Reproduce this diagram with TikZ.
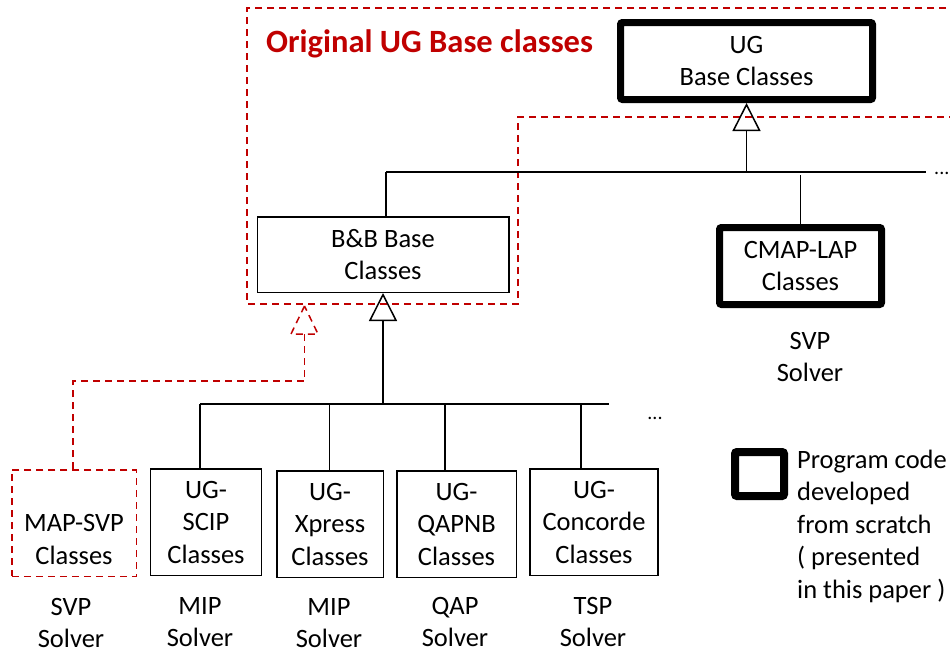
\documentclass[tikz,border=0pt]{standalone}
\usepackage{fontspec}
\setmainfont{Carlito}
\usetikzlibrary{arrows.meta}
\definecolor{ugred}{HTML}{C00000}
\tikzset{
  every node/.style={font=\fontsize{26.5}{32.5}\selectfont, align=center},
  thinbox/.style={draw=black, line width=1.5pt, inner sep=0pt},
  thickbox/.style={draw=black, line width=7pt, rounded corners=2pt, inner sep=0pt},
  redbox/.style={draw=ugred, line width=1.5pt, dash pattern=on 7pt off 5pt, inner sep=0pt},
  conn/.style={draw=black, line width=1.5pt},
  redconn/.style={draw=ugred, line width=1.5pt, dash pattern=on 7pt off 5pt},
  inherit/.style={conn, -{Triangle[open, length=28pt, width=28pt, line width=1.5pt]}},
  plain/.style={inner sep=0pt},
}
\begin{document}
\begin{tikzpicture}[x=1pt, y=-1pt]
\useasboundingbox (0,0) rectangle (950,654);

% red dashed region of the original UG base classes
\draw[redconn] (970,8) -- (247,8) -- (247,304) -- (518,304) -- (518,117) -- (970,117);
\node[plain, font=\bfseries\fontsize{32.5}{36}\selectfont, text=ugred, anchor=west] (title) at (266,44) {Original UG Base classes};

% boxes
\node[thickbox, minimum width=252pt, minimum height=77pt] (ug) at (746.5,61) {UG\\Base Classes};
\node[thinbox, minimum width=251.5pt, minimum height=75.5pt] (bb) at (383,254.5) {B\&B Base\\Classes};
\node[thickbox, minimum width=162pt, minimum height=77pt] (cmap) at (800.5,266) {CMAP-LAP\\Classes};
\node[plain] (cmapsol) at (810,357) {SVP\\Solver};

\node[redbox, minimum width=124.5pt, minimum height=106.5pt] (msvp) at (74,523) {\phantom{UG-}\\MAP-SVP\\Classes};
\node[thinbox, minimum width=111pt, minimum height=106.5pt] (scip) at (206,522) {UG-\\SCIP\\Classes};
\node[thinbox, minimum width=106.5pt, minimum height=106.5pt] (xpress) at (330,524) {UG-\\Xpress\\Classes};
\node[thinbox, minimum width=119.5pt, minimum height=106.5pt] (qapnb) at (456.5,524) {UG-\\QAPNB\\Classes};
\node[thinbox, minimum width=128pt, minimum height=106.5pt] (concorde) at (594,522) {UG-\\Concorde\\Classes};

\node[plain] (lsvp) at (71,623) {SVP\\Solver};
\node[plain] (lmip1) at (200,622) {MIP\\Solver};
\node[plain] (lmip2) at (329,623) {MIP\\Solver};
\node[plain] (lqap) at (455,622) {QAP\\Solver};
\node[plain] (ltsp) at (593,622) {TSP\\Solver};

% upper bus
\coordinate (b1L) at (386,172);
\coordinate (b1R) at (926,172);
\draw[conn] (b1L) -- (b1R);
\draw[inherit] (ug.south |- b1L) -- (ug.south);
\draw[conn] (b1L) -- (b1L |- bb.north);
\draw[conn] (cmap.north) -- ([yshift=-3pt]cmap.north |- b1L);
\node[plain, font=\fontsize{20}{24}\selectfont, anchor=base west] (dots1) at (934,174) {...};

% lower bus
\coordinate (b2L) at (200,404);
\coordinate (b2R) at (609,404);
\draw[conn] (b2L) -- (b2R);
\draw[inherit] (bb.south |- b2L) -- (bb.south);
\draw[conn] ([xshift=-6pt]scip.north) -- ([xshift=-6pt]scip.north |- b2L);
\draw[conn] ([xshift=-0.5pt]xpress.north) -- ([xshift=-0.5pt]xpress.north |- b2L);
\draw[conn] ([xshift=-11.5pt]qapnb.north) -- ([xshift=-11.5pt]qapnb.north |- b2L);
\draw[conn] ([xshift=-13pt]concorde.north) -- ([xshift=-13pt]concorde.north |- b2L);
\node[plain, font=\fontsize{20}{24}\selectfont, anchor=base] (dots2) at (655,419) {...};

% dashed realisation from MAP-SVP
\coordinate (sbend) at (304.5,381);
\coordinate (stip) at (304.5,306);
\draw[redconn] ([xshift=-1pt]msvp.north) |- (sbend) -- ([yshift=-28pt]stip);
\draw[redconn] (stip) -- ++(-13.5,28) -- ++(27,0) -- cycle;

% legend
\node[thickbox, line width=8pt, minimum width=49pt, minimum height=44pt] (legbox) at (759.5,474) {};
\node[plain, align=left, anchor=west] (legtext) at (797,526) {Program code\\developed\\from scratch\\( presented\\in this paper )};
\end{tikzpicture}
\end{document}
